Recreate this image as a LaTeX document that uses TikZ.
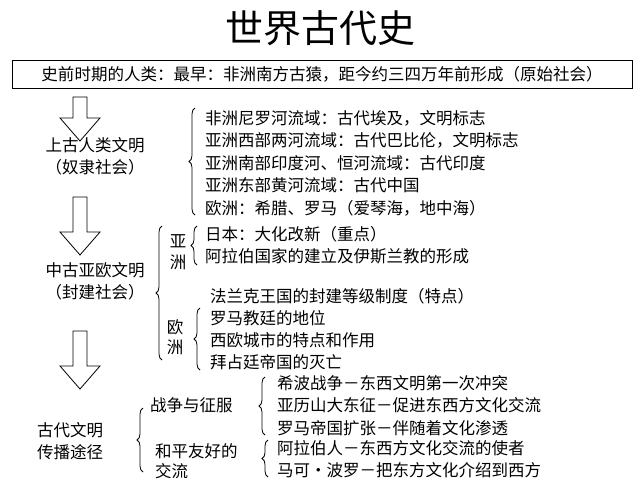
\documentclass[tikz,border=0pt]{standalone}
\usepackage{fontspec}
\setmainfont{Noto Sans CJK SC}
\usetikzlibrary{decorations.pathreplacing}

\tikzset{
  txt/.style={font=\fontsize{16.5}{18}\selectfont, inner sep=0pt, anchor=west},
  lbl/.style={font=\fontsize{16.5}{18}\selectfont, inner sep=0pt},
  brc/.style={decorate,decoration={brace,amplitude=6pt},thick},
}

\begin{document}
\begin{tikzpicture}[x=1pt,y=-1pt]
\useasboundingbox[fill=white] (0,0) rectangle (640,480);

% title and top box
\node[lbl, font=\fontsize{38}{40}\selectfont] (title) at (320,28) {世界古代史};
\node[lbl, draw, thick, minimum width=620, minimum height=28] (pre) at (322,74)
  {史前时期的人类：最早：非洲南方古猿，距今约三四万年前形成（原始社会）};

% hollow arrows: top, head start, tip
\foreach \top/\mid/\tip in {97/118/141, 197/232/255, 331/366/389}
  \draw[thick] (73,\top) -- (87,\top) -- (87,\mid) -- (100,\mid) -- (80,\tip)
    -- (60,\mid) -- (73,\mid) -- cycle;

% ancient
\node[lbl] (anc1) at (95,145) {上古人类文明};
\node[lbl] (anc2) at (95,167) {（奴隶社会）};
\draw[brc] (195,215) -- (195,108);
\foreach \t [count=\i] in {非洲尼罗河流域：古代埃及，文明标志,
  亚洲西部两河流域：古代巴比伦，文明标志,
  亚洲南部印度河、恒河流域：古代印度,
  亚洲东部黄河流域：古代中国,
  欧洲：希腊、罗马（爱琴海，地中海）}
  \node[txt] (anc-\i) at (205,95.5+22.5*\i) {\t};

% medieval
\node[lbl] (med1) at (95,270) {中古亚欧文明};
\node[lbl] (med2) at (95,292) {（封建社会）};
\draw[brc] (162,360) -- (162,226);
\node[lbl] (asia1) at (178,241) {亚};
\node[lbl] (asia2) at (178,262) {洲};
\draw[brc] (197,265) -- (197,226);
\node[txt] (as-1) at (205,234) {日本：大化改新（重点）};
\node[txt] (as-2) at (205,256) {阿拉伯国家的建立及伊斯兰教的形成};
\node[lbl] (eur1) at (175,327) {欧};
\node[lbl] (eur2) at (175,347) {洲};
\draw[brc] (200,370) -- (200,308);
\foreach \t [count=\i] in {法兰克王国的封建等级制度（特点）,
  罗马教廷的地位, 西欧城市的特点和作用, 拜占廷帝国的灭亡}
  \node[txt] (eu-\i) at (210,274+22*\i) {\t};

% spread
\node[lbl] (spr1) at (70,430) {古代文明};
\node[lbl] (spr2) at (70,452) {传播途径};
\draw[brc] (143,472) -- (143,408);
\node[txt] (war) at (150,405) {战争与征服};
\draw[brc] (265,435) -- (265,377);
\foreach \t [count=\i] in {希波战争－东西文明第一次冲突,
  亚历山大东征－促进东西方文化交流,
  罗马帝国扩张－伴随着文化渗透}
  \node[txt] (war-\i) at (277,360.5+22.5*\i) {\t};
\node[txt] (peace1) at (155,451) {和平友好的};
\node[txt] (peace2) at (155,471) {交流};
\draw[brc] (268,477) -- (268,440);
\node[txt] (pc-1) at (277,448) {阿拉伯人－东西方文化交流的使者};
\node[txt] (pc-2) at (277,470) {马可·波罗－把东方文化介绍到西方};

\end{tikzpicture}
\end{document}
